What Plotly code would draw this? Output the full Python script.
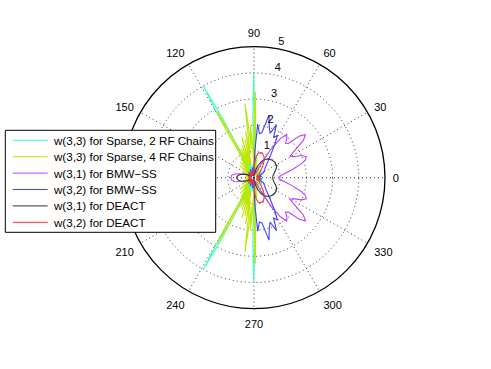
import plotly.graph_objects as go

# beam patterns, upper half (0..180 deg); the picture is mirror symmetric about 0-180
cyan_theta = [0, 8, 16, 24, 32, 40, 48, 56, 64, 72, 78, 83, 86.5, 89.4, 90.2, 91.0, 91.8, 93, 96, 100, 104, 108, 112, 115, 116.9, 117.9, 118.9, 119.9, 121.2, 124, 128, 134, 142, 150, 160, 170, 180]
cyan_r = [0.15, 0.3, 0.1, 0.35, 0.15, 0.4, 0.1, 0.3, 0.15, 0.45, 0.2, 0.6, 0.3, 2.4, 4.02, 2.4, 0.4, 0.15, 0.5, 0.2, 0.6, 0.25, 0.7, 0.3, 0.5, 2.6, 4.02, 2.6, 0.3, 0.6, 0.2, 0.45, 0.15, 0.35, 0.1, 0.25, 0.15]

yel_theta = [0, 10, 20, 30, 40, 50, 60, 67, 73, 78, 82, 85, 87, 88.4, 89.1, 89.8, 91, 92.5, 94, 95.3, 96.3, 97, 97.7, 99, 100.3, 101.8, 103.3, 105, 106.8, 108.5, 110.3, 112, 113.8, 115.5, 117, 118.4, 119.3, 120.2, 121.5, 124, 127, 131, 135, 140, 146, 153, 160, 170, 180]
yel_r = [0.2, 0.1, 0.25, 0.1, 0.3, 0.15, 0.4, 0.2, 0.5, 0.25, 0.8, 0.4, 1.0, 2.2, 3.28, 2.2, 0.6, 1.3, 2.0, 1.1, 2.1, 2.85, 1.9, 0.9, 1.8, 0.6, 1.5, 0.5, 1.6, 0.5, 1.3, 0.4, 1.2, 0.5, 1.0, 2.1, 2.88, 2.0, 0.4, 0.9, 0.3, 0.8, 0.25, 0.7, 0.2, 0.5, 0.15, 0.35, 0.2]

vio_theta = [0, 4, 8, 12, 16, 19, 22, 25, 28, 31, 34, 37, 40, 42.5, 45, 47.5, 50, 53, 56, 59, 62, 65, 70, 76, 82, 88, 95, 102, 110, 120, 130, 140, 150, 158, 164, 169, 174, 180]
vio_r = [0.93, 1.0, 1.2, 1.5, 1.85, 2.08, 2.15, 2.0, 1.7, 1.6, 1.9, 2.35, 2.57, 2.35, 1.85, 1.78, 1.95, 2.08, 1.8, 1.3, 0.7, 0.3, 0.15, 0.3, 0.12, 0.25, 0.1, 0.2, 0.1, 0.25, 0.1, 0.2, 0.12, 0.3, 0.55, 0.75, 0.86, 0.88]

blu_theta = [0, 10, 20, 28, 36, 43, 49, 54, 58, 61, 64, 67, 70, 73, 76.5, 80, 83, 86, 88.3, 90, 93, 98, 105, 115, 125, 135, 145, 155, 165, 180]
blu_r = [0.15, 0.3, 0.2, 0.4, 0.5, 0.6, 0.8, 1.1, 1.5, 1.85, 1.7, 2.2, 1.8, 2.0, 2.45, 1.75, 1.7, 2.05, 1.0, 0.35, 0.15, 0.4, 0.15, 0.35, 0.1, 0.3, 0.12, 0.25, 0.1, 0.2]

blk_theta = [0, 6, 12, 18, 24, 30, 37, 45, 53, 60, 66, 72, 78, 84, 90, 100, 112, 125, 138, 148, 155, 161, 166, 171, 176, 180]
blk_r = [0.71, 0.73, 0.78, 0.86, 0.94, 0.98, 0.99, 0.96, 0.9, 0.8, 0.66, 0.48, 0.3, 0.15, 0.05, 0.12, 0.2, 0.1, 0.2, 0.15, 0.28, 0.42, 0.52, 0.6, 0.65, 0.66]

red_theta = [0, 12, 24, 36, 44, 50, 55, 60, 65, 70, 75, 80, 84, 87, 89.5, 92, 96, 105, 115, 128, 140, 152, 165, 180]
red_r = [0.12, 0.22, 0.1, 0.25, 0.3, 0.45, 0.62, 0.78, 0.9, 0.97, 0.99, 0.95, 0.82, 0.62, 0.35, 0.15, 0.25, 0.1, 0.28, 0.12, 0.25, 0.1, 0.22, 0.12]

names = ["w(3,3) for Sparse, 2 RF Chains", "w(3,3) for Sparse, 4 RF Chains",
         "w(3,1) for BMW\u2212SS", "w(3,2) for BMW\u2212SS",
         "w(3,1) for DEACT", "w(3,2) for DEACT"]
colors = ["#40FFBF", "#BFE600", "#BF40FF", "#4040FF", "#333333", "#FF3030"]

radial_ticks = [1, 2, 3, 4, 5]
angle_ticks = list(range(0, 360, 30))
# 180 sits under the legend box in the original
angle_text = ["" if a == 180 else str(a) for a in angle_ticks]

W, H = 491, 369


def mirror(th, r):
    # lower half is the reflection of the upper half
    return th + [360 - t for t in th[::-1]], r + r[::-1]


def px(x):
    return x / W


def py(y):
    return 1 - y / H


series = [(cyan_theta, cyan_r), (yel_theta, yel_r), (vio_theta, vio_r),
          (blu_theta, blu_r), (blk_theta, blk_r), (red_theta, red_r)]

fig = go.Figure()
for (th, r), name, c in zip(series, names, colors):
    tt, rr = mirror(th, r)
    fig.add_trace(go.Scatterpolar(theta=tt, r=rr, mode="lines", name=name,
                                  showlegend=False, line=dict(color=c, width=1.1)))

# radial tick labels, MATLAB style, beside the 82 degree line
fig.add_trace(go.Scatterpolar(r=radial_ticks, theta=[82] * 5, mode="text",
                              text=["\u00a0\u00a0" + str(v) for v in radial_ticks],
                              textposition="top right", showlegend=False,
                              hoverinfo="skip", cliponaxis=False,
                              textfont=dict(size=11, color="black")))

# legend box drawn like the MATLAB one (tighter rows than plotly's own legend)
shapes = [dict(type="rect", xref="paper", yref="paper",
               x0=px(5.3), x1=px(215.7), y0=py(232.3), y1=py(130.3),
               line=dict(color="black", width=1), fillcolor="white", layer="above")]
annotations = []
for i, (name, c) in enumerate(zip(names, colors)):
    yy = 140.3 + 16.4 * i
    shapes.append(dict(type="line", xref="paper", yref="paper",
                       x0=px(12.7), x1=px(47.7), y0=py(yy), y1=py(yy),
                       line=dict(color=c, width=1), layer="above"))
    annotations.append(dict(x=px(50.5), y=py(yy), xref="paper", yref="paper",
                            text=name, showarrow=False, xanchor="left",
                            yanchor="middle", font=dict(size=11.6, color="black")))

fig.update_layout(
    width=W, height=H,
    margin=dict(l=0, r=0, t=0, b=0),
    paper_bgcolor="white",
    font=dict(family="Liberation Sans, Arial, sans-serif", size=11, color="black"),
    showlegend=False,
    shapes=shapes,
    annotations=annotations,
    polar=dict(
        domain=dict(x=[0.2505, 0.7841], y=[0.1634, 0.8734]),
        bgcolor="white",
        radialaxis=dict(range=[0, 5], tickvals=[1, 2, 3, 4], showticklabels=False,
                        ticks="", showline=False, gridcolor="#333333",
                        griddash="1px,3px", gridwidth=1, angle=82),
        angularaxis=dict(tickvals=angle_ticks, ticktext=angle_text,
                         direction="counterclockwise",
                         rotation=0, showline=True, linecolor="black", linewidth=1.3,
                         gridcolor="#333333", griddash="1px,3px", gridwidth=1,
                         ticks="outside", ticklen=5, tickcolor="rgba(0,0,0,0)",
                         tickfont=dict(size=11)),
    ),
)

# page body has an 8px default margin; drop it so the figure sits at the window corner
fig.write_html("out.html", config={"displayModeBar": False},
               post_script="document.body.style.margin='0px';")
